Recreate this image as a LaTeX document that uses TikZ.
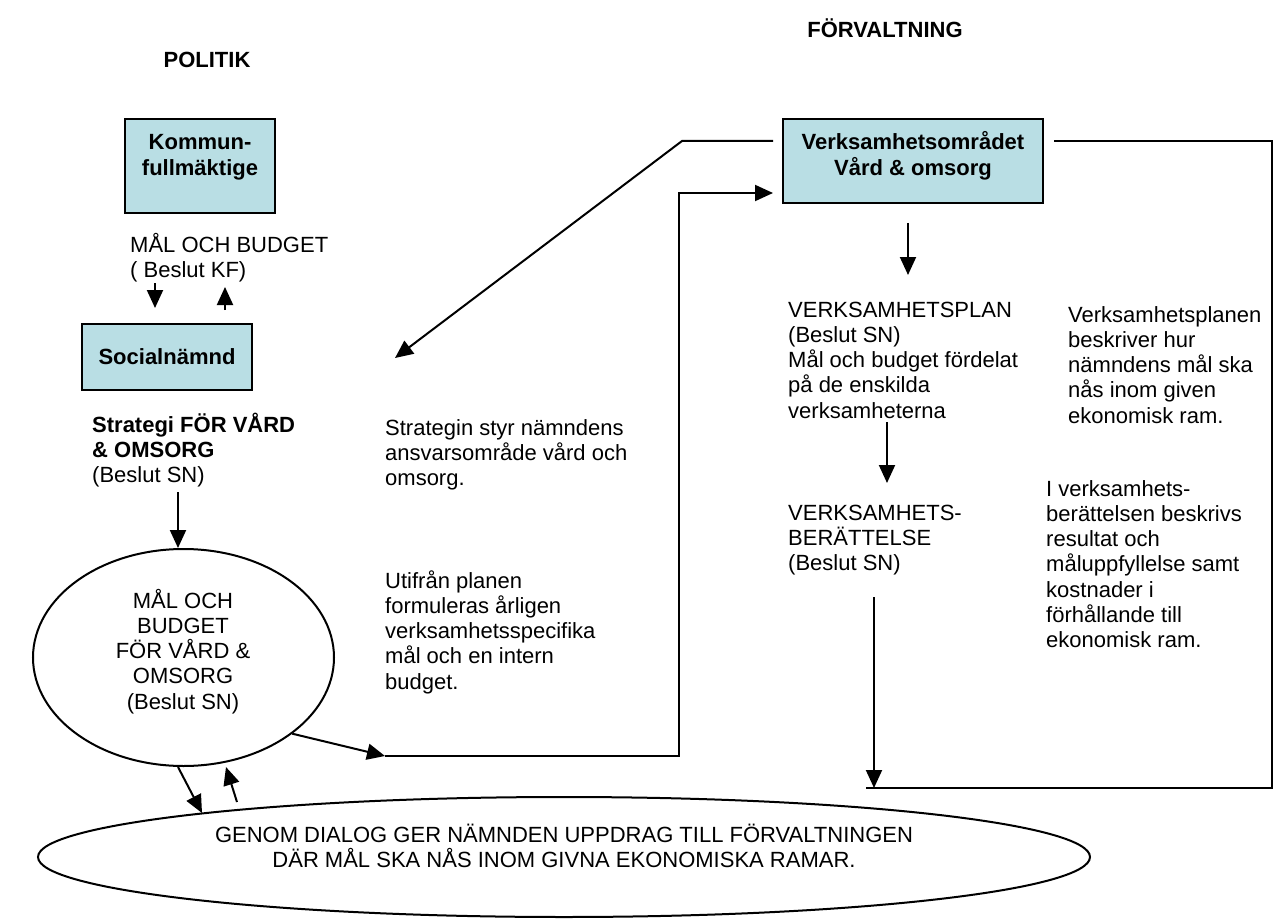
\documentclass[tikz,border=0pt]{standalone}
\usepackage{fontspec}
\setmainfont{Liberation Sans}
\usetikzlibrary{arrows.meta,shapes.geometric}
\definecolor{boxblue}{RGB}{185,222,228}
\begin{document}
\begin{tikzpicture}[x=1pt,y=-1pt,
  every node/.style={inner sep=0pt, font=\fontsize{22}{25.3}\selectfont},
  lbl/.style={align=left, anchor=base west},
  ctxt/.style={align=center, anchor=base},
  btxt/.style={align=center, anchor=base, font=\fontsize{22}{25.3}\selectfont\bfseries},
  cbox/.style={draw, line width=2pt, fill=boxblue},
  conn/.style={line width=2pt},
  arr/.style={line width=2pt, -{Triangle[length=18pt,width=16pt]}},
  oval/.style={draw, ellipse, line width=2pt}
]
\useasboundingbox (0,0) rectangle (1285,920);

% headings
\node[btxt] (pol) at (207,68) {POLITIK};
\node[btxt] (forv) at (885,38) {FÖRVALTNING};

% boxes (text anchors are at the baseline of the last line)
\node[cbox, minimum width=150pt, minimum height=94pt] (kf) at (200,166) {};
\node[btxt] (kft) at (200,175.3) {Kommun-\\fullmäktige};
\node[cbox, minimum width=170pt, minimum height=66pt] (sn) at (167,357) {};
\node[btxt] (snt) at (167,364) {Socialnämnd};
\node[cbox, minimum width=260pt, minimum height=84pt] (vo) at (913,161) {};
\node[btxt] (vot) at (913,175.3) {Verksamhetsområdet\\Vård \& omsorg};

% ellipses
\node[oval, minimum width=301pt, minimum height=217pt] (ell) at (183.5,657.5) {};
\node[ctxt] (ellt) at (183,709.2) {MÅL OCH\\BUDGET\\FÖR VÅRD \&\\OMSORG\\(Beslut SN)};
\node[oval, minimum width=1052pt, minimum height=120pt] (dlg) at (564,857) {};
\node[ctxt] (dlgt) at (564,867.3) {GENOM DIALOG GER NÄMNDEN UPPDRAG TILL FÖRVALTNINGEN\\DÄR MÅL SKA NÅS INOM GIVNA EKONOMISKA RAMAR.};

% texts
\node[lbl] (mob) at (130,277.3) {MÅL OCH BUDGET\\( Beslut KF)};
\node[lbl] (strat) at (92,482.6) {{\bfseries Strategi FÖR VÅRD}\\{\bfseries \& OMSORG}\\(Beslut SN)};
\node[lbl] (strin) at (385,485.6) {Strategin styr nämndens\\ansvarsområde vård och\\omsorg.};
\node[lbl] (utif) at (385,689.2) {Utifrån planen\\formuleras årligen\\verksamhetsspecifika\\mål och en intern\\budget.};
\node[lbl] (vp) at (788,418.2) {VERKSAMHETSPLAN\\(Beslut SN)\\Mål och budget fördelat\\på de enskilda\\verksamheterna};
\node[lbl] (vb) at (788,570.6) {VERKSAMHETS-\\BERÄTTELSE\\(Beslut SN)};
\node[lbl] (vpd) at (1068,423.2) {Verksamhetsplanen\\beskriver hur\\nämndens mål ska\\nås inom given\\ekonomisk ram.};
\node[lbl] (vbd) at (1046,647.8) {I verksamhets-\\berättelsen beskrivs\\resultat och\\måluppfyllelse samt\\kostnader i\\förhållande till\\ekonomisk ram.};

% coordinates
\coordinate (k1) at (155,283); \coordinate (k2) at (155,308);
\coordinate (k3) at (225,310); \coordinate (k4) at (225,287);
\coordinate (s1) at (178,492);
\coordinate (e2) at (385,756);
\coordinate (v1) at (773,193);
\coordinate (v2) at (773,141);
\coordinate (d1) at (395,358);
\coordinate (v3) at (1054,141);
\coordinate (b1) at (866,788);
\coordinate (b2) at (874,597);
\coordinate (v4) at (908,223); \coordinate (v5) at (908,275);
\coordinate (p1) at (887,422); \coordinate (p2) at (887,483);
\coordinate (m1) at (178,767); \coordinate (m2) at (202,813);
\coordinate (m3) at (237,802); \coordinate (m4) at (226,767);

% connectors
\draw[arr] (k1) -- (k2);
\draw[arr] (k3) -- (k4);
\draw[arr] (s1) -- (s1 |- ell.north);
\draw[arr] (ell.-35) -- (e2);
\draw[arr] (e2) -- ++(294,0) |- (v1);
\draw[arr] (v2) -- (682,141) -- (d1);
\draw[conn] (v3) -- (1272,141) |- (b1);
\draw[arr] (b2) -- (b2 |- b1);
\draw[arr] (v4) -- (v5);
\draw[arr] (p1) -- (p2);
\draw[arr] (m1) -- (m2);
\draw[arr] (m3) -- (m4);
\end{tikzpicture}
\end{document}
